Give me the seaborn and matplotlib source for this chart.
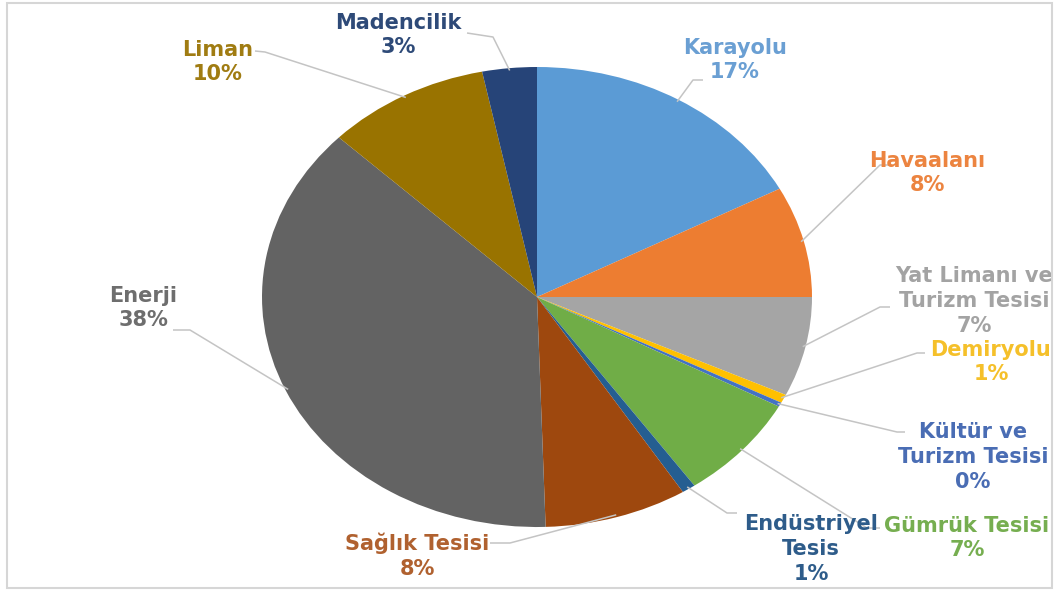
import matplotlib
matplotlib.use("Agg")
import matplotlib.pyplot as plt
from matplotlib.patches import Rectangle
import numpy as np
import seaborn as sns

# Project counts by sector, share of total (%)
categories = ["Karayolu", "Havaalanı", "Yat Limanı ve\nTurizm Tesisi", "Demiryolu",
              "Kültür ve\nTurizm Tesisi", "Gümrük Tesisi", "Endüstriyel\nTesis",
              "Sağlık Tesisi", "Enerji", "Liman", "Madencilik"]
shares = [17.2, 7.8, 7.0, 0.6, 0.3, 7.4, 0.8, 8.4, 37.7, 9.6, 3.2]
slice_colors = ["#5B9BD5", "#ED7D31", "#A5A5A5", "#FFC000", "#4472C4", "#70AD47",
                "#255E91", "#9E480E", "#636363", "#997300", "#264478"]
label_colors = ["#6A9FD3", "#EC8440", "#A3A3A3", "#F5C02A", "#4A6DB4", "#76AE50",
                "#2E5C8A", "#B0612F", "#6E6E6E", "#A07C12", "#2E4A78"]

sns.set_theme(style="white")
plt.rcParams["font.family"] = ["DejaVu Sans"]

W, H = 1059, 590
fig = plt.figure(figsize=(W / 100, H / 100), dpi=100)
ax = fig.add_axes([0, 0, 1, 1])

# pie centre and radii in pixels (drawn as an ellipse)
cx, cy, rx, ry = 537, 297, 275, 230


def px(x, y):
    return (x - cx) / rx, (cy - y) / ry


wedges, _ = ax.pie(shares, colors=sns.color_palette(slice_colors), startangle=90,
                   counterclock=False, wedgeprops=dict(linewidth=0))
ax.set_aspect("auto")
ax.set_xlim(-cx / rx, (W - cx) / rx)
ax.set_ylim(-(H - cy) / ry, cy / ry)
ax.axis("off")

# label block centres and leader-line elbows/ends (pixels)
text_pos = [(735, 60), (927, 173), (974, 301), (991, 362), (973, 457), (967, 538),
            (811, 549), (417, 556), (143, 308), (218, 62), (398, 35)]
elbows = [(693, 80), (880, 165), (880, 307), (917, 353), (897, 432), (867, 528),
          (727, 513), (510, 543), (190, 330), (265, 52), (493, 37)]
ends = [(703, 80), (890, 165), (890, 307), (925, 353), (905, 432), (880, 528),
        (737, 513), (490, 543), (173, 330), (255, 51), (467, 33)]

total = sum(shares)
for w, name, val, tc, tp, el, en in zip(wedges, categories, shares, label_colors,
                                        text_pos, elbows, ends):
    mid = np.deg2rad((w.theta1 + w.theta2) / 2)
    p0 = (np.cos(mid) * 0.99, np.sin(mid) * 0.99)
    p1, p2 = px(*el), px(*en)
    ax.plot([p0[0], p1[0], p2[0]], [p0[1], p1[1], p2[1]], color="#C4C4C4", lw=1.1,
            solid_capstyle="butt", zorder=1)
    tx, ty = px(*tp)
    ax.text(tx, ty, f"{name}\n{val / total * 100:.0f}%", color=tc, fontsize=15,
            fontweight="bold", ha="center", va="center", multialignment="center",
            linespacing=1.3)

fig.add_artist(Rectangle((7 / W, 1 - 588 / H), (1052 - 7) / W, (588 - 3) / H,
                         transform=fig.transFigure, fill=False, edgecolor="#D6D6D6",
                         lw=1.5))

fig.savefig("out.png", dpi=100, facecolor="white")
